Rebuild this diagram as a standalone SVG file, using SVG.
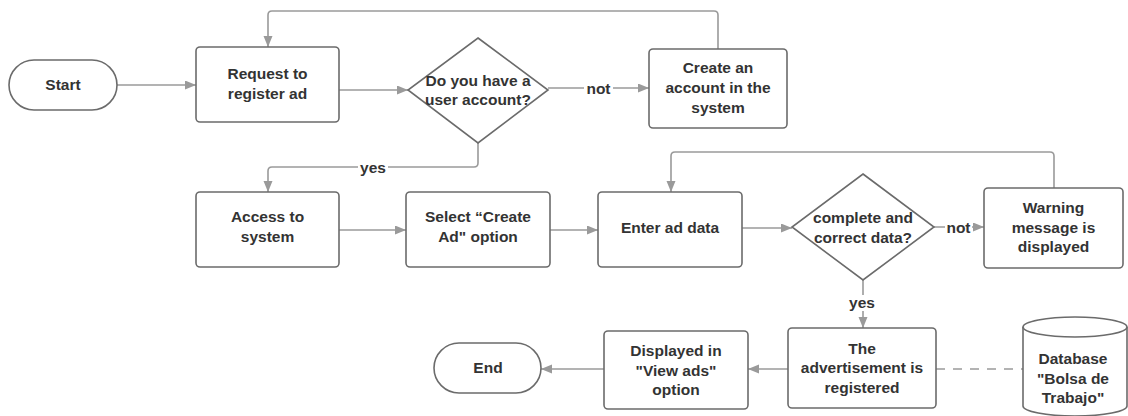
<svg xmlns="http://www.w3.org/2000/svg" width="1128" height="416" viewBox="0 0 1128 416">
<defs>
<marker id="arr" markerWidth="12" markerHeight="10" refX="11" refY="4.5" orient="auto" markerUnits="userSpaceOnUse">
<path d="M0,0 L11,4.5 L0,9 z" fill="#9a9a9a"/>
</marker>
<style>
.n{fill:#ffffff;stroke:#6b6b6b;stroke-width:1.6}
.t{font-family:"Liberation Sans",Arial,sans-serif;font-weight:bold;font-size:15.5px;fill:#333333;text-anchor:middle}
.c{fill:none;stroke:#9a9a9a;stroke-width:1.6}
.a{marker-end:url(#arr)}
.lb{fill:#ffffff}
</style>
</defs>
<rect width="1128" height="416" fill="#ffffff"/>
<g id="connectors">
<path class="c a" d="M117,85 H196"/>
<path class="c a" d="M339,90 H408"/>
<path class="c a" d="M548,88 H649"/>
<path class="c a" d="M718,49 V15 Q718,11 714,11 H272 Q268,11 268,15 V47"/>
<path class="c a" d="M478,143 V163 Q478,167 474,167 H272 Q268,167 268,171 V192"/>
<path class="c a" d="M339,230 H406"/>
<path class="c a" d="M550,230 H598"/>
<path class="c a" d="M742,228 H792"/>
<path class="c a" d="M934,227 H984"/>
<path class="c a" d="M1054,188 V156 Q1054,152 1050,152 H675 Q671,152 671,156 V192"/>
<path class="c a" d="M863,280 V328"/>
<path class="c a" d="M788,369 H748"/>
<path class="c a" d="M604,369 H541"/>
<path class="c" d="M936,369 H1023" stroke-dasharray="9 8"/>
<rect class="lb" x="584" y="80" width="29" height="16"/>
<text class="t" x="598.5" y="93.5">not</text>
<rect class="lb" x="358" y="159" width="30" height="16"/>
<text class="t" x="373" y="172.5">yes</text>
<rect class="lb" x="945" y="219" width="27" height="16"/>
<text class="t" x="958.5" y="232.5">not</text>
<rect class="lb" x="847" y="295" width="30" height="16"/>
<text class="t" x="862" y="308">yes</text>
</g>
<g id="start">
<rect class="n" x="9" y="60" width="108" height="50" rx="25"/>
<text class="t" x="63" y="90">Start</text>
</g>
<g id="request">
<rect class="n" x="196" y="47" width="143" height="75" rx="4"/>
<text class="t" x="267.5" y="78.5">Request to</text>
<text class="t" x="267.5" y="98.5">register ad</text>
</g>
<g id="has-account">
<polygon class="n" points="478,38 548,90 478,143 408,90"/>
<text class="t" x="478" y="85.5">Do you have a</text>
<text class="t" x="478" y="104.5">user account?</text>
</g>
<g id="create-account">
<rect class="n" x="649" y="49" width="138" height="79" rx="4"/>
<text class="t" x="718" y="72.5">Create an</text>
<text class="t" x="718" y="92.5">account in the</text>
<text class="t" x="718" y="112.5">system</text>
</g>
<g id="access">
<rect class="n" x="196" y="192" width="143" height="75" rx="4"/>
<text class="t" x="267.5" y="221.5">Access to</text>
<text class="t" x="267.5" y="241.5">system</text>
</g>
<g id="select-create-ad">
<rect class="n" x="406" y="192" width="144" height="75" rx="4"/>
<text class="t" x="478" y="221.5">Select “Create</text>
<text class="t" x="478" y="241.5">Ad" option</text>
</g>
<g id="enter-data">
<rect class="n" x="598" y="192" width="144" height="75" rx="4"/>
<text class="t" x="670" y="232.5">Enter ad data</text>
</g>
<g id="data-check">
<polygon class="n" points="863,174 934,227 863,280 792,227"/>
<text class="t" x="863" y="222.5">complete and</text>
<text class="t" x="863" y="242.5">correct data?</text>
</g>
<g id="warning">
<rect class="n" x="984" y="188" width="139" height="80" rx="4"/>
<text class="t" x="1053.5" y="212.5">Warning</text>
<text class="t" x="1053.5" y="232.5">message is</text>
<text class="t" x="1053.5" y="251.5">displayed</text>
</g>
<g id="registered">
<rect class="n" x="788" y="328" width="148" height="80" rx="4"/>
<text class="t" x="862" y="353.5">The</text>
<text class="t" x="862" y="372.5">advertisement is</text>
<text class="t" x="862" y="392.5">registered</text>
</g>
<g id="displayed">
<rect class="n" x="604" y="331" width="144" height="78" rx="4"/>
<text class="t" x="676" y="355.5">Displayed in</text>
<text class="t" x="676" y="375.5">"View ads"</text>
<text class="t" x="676" y="394.5">option</text>
</g>
<g id="end">
<rect class="n" x="434" y="343" width="107" height="50" rx="25"/>
<text class="t" x="488" y="373">End</text>
</g>
<g id="database">
<path class="n" d="M1023,327 A52,10 0 0 1 1127,327 V406 A52,10 0 0 1 1023,406 Z"/>
<path class="n" d="M1023,327 A52,10 0 0 0 1127,327" fill="none"/>
<text class="t" x="1073" y="363.5">Database</text>
<text class="t" x="1073" y="383.5">"Bolsa de</text>
<text class="t" x="1073" y="402.5">Trabajo"</text>
</g>
</svg>
